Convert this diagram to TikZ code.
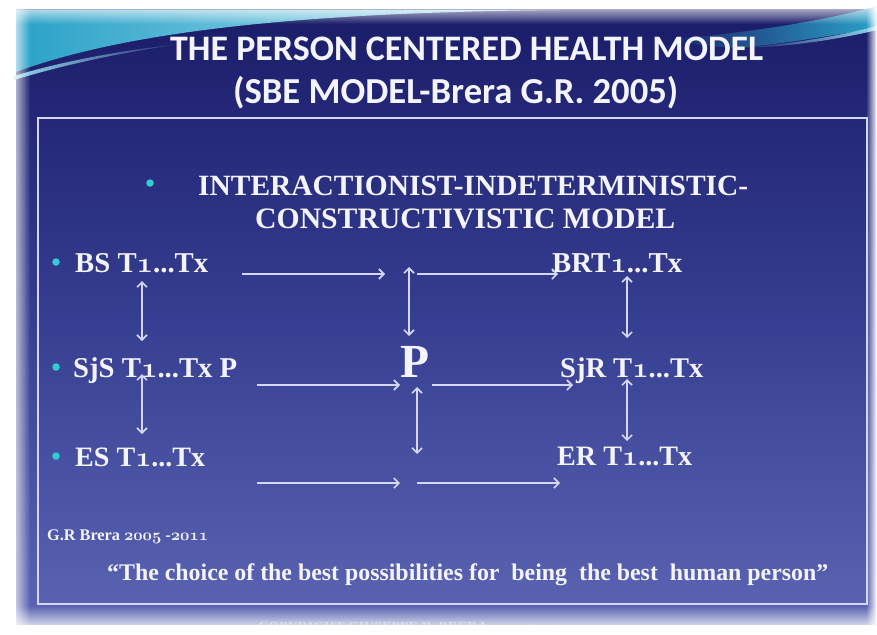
\documentclass[tikz,border=0pt]{standalone}
\usepackage{fontspec}
\usepackage{graphicx}
\setmainfont{Liberation Serif}
\newfontfamily\titlefont{Carlito}
\usetikzlibrary{arrows.meta,fadings}
\tikzfading[name=fadeToRight, left color=transparent!0, right color=transparent!100]
\tikzfading[name=fadeToLeft, left color=transparent!100, right color=transparent!0]
\tikzfading[name=fadeToBottom, top color=transparent!0, bottom color=transparent!100]
\tikzfading[name=fadeToTop, top color=transparent!100, bottom color=transparent!0]
\newcommand\osn[1]{{\fontencoding{OML}\fontfamily{cmm}\fontseries{b}\fontshape{it}\selectfont #1}}
\definecolor{navyT}{HTML}{1A1C68}
\definecolor{navyM}{HTML}{363E91}
\definecolor{navyB}{HTML}{5B65B3}
\definecolor{tealA}{HTML}{2AA2C8}
\definecolor{tealB}{HTML}{8FD6EA}
\definecolor{txt}{HTML}{F4F4FF}
\definecolor{linec}{HTML}{D4D7F4}
\definecolor{bul}{HTML}{30CDD2}
\tikzset{
  lbl/.style={anchor=base west, inner sep=0pt, text=txt, font=\bfseries},
  ttl/.style={anchor=base west, inner sep=0pt, text=txt, font=\titlefont\bfseries},
  bulletdot/.style={fill=bul, draw=none, circle, minimum size=7.5pt, inner sep=0pt},
  arr/.style={draw=linec, line width=1.6pt, -{Straight Barb[length=5pt,width=10pt]}},
  darr/.style={draw=linec, line width=1.6pt, {Straight Barb[length=5pt,width=10pt]}-{Straight Barb[length=5pt,width=10pt]}},
}
\begin{document}
\begin{tikzpicture}[x=1pt,y=-1pt]
\useasboundingbox (0,0) rectangle (877,634);
\clip (0,0) rectangle (877,634);
% background
\fill[white] (0,0) rectangle (877,634);
\shade[top color=navyT, bottom color=navyB, middle color=navyM] (16,10) rectangle (876,624);
% top-left swoosh
\shade[left color=tealA, right color=tealB!60!white] (16,10) -- (560,10) .. controls (340,12) and (140,26) .. (16,72) -- cycle;
\fill[tealB, path fading=fadeToRight] (14,80) .. controls (60,66) and (120,52) .. (190,43) .. controls (120,50) and (60,62) .. (14,76) -- cycle;
% top-right swoosh
\shade[left color=navyT, right color=tealA] (660,40) .. controls (740,34) and (820,22) .. (877,6) -- (877,28) .. controls (830,36) and (780,44) .. (740,48) .. controls (710,47) and (690,44) .. (660,40) -- cycle;
\fill[tealB, path fading=fadeToLeft] (740,48) .. controls (790,44) and (840,36) .. (877,26) -- (877,30) .. controls (840,39) and (790,47) .. (740,48) -- cycle;
% fuzzy edges
\fill[white, path fading=fadeToBottom] (0,0) rectangle (877,24);
\fill[white, path fading=fadeToRight] (8,0) rectangle (30,634);
\fill[white, path fading=fadeToLeft] (866,0) rectangle (877,634);
\fill[white, path fading=fadeToTop] (0,606) rectangle (877,632);
\fill[white] (0,0) rectangle (877,5);
\fill[white] (0,0) rectangle (9,634);
% title
\node[ttl] (t1) at (170,60) {\resizebox{593pt}{!}{THE PERSON CENTERED HEALTH MODEL}};
\node[ttl] (t2) at (233,103) {\resizebox{445pt}{!}{(SBE MODEL-Brera G.R. 2005)}};
% inner frame
\draw[linec, line width=1.8pt] (38,118) rectangle (867,604);
% heading
\node[bulletdot] (b0) at (150,183) {};
\node[lbl] (h1) at (198,195) {\resizebox{550pt}{!}{INTERACTIONIST-INDETERMINISTIC-}};
\node[lbl] (h2) at (255,228) {\resizebox{420pt}{!}{CONSTRUCTIVISTIC MODEL}};
% left column
\node[bulletdot] (b1) at (56,262) {};
\node[bulletdot] (b2) at (56,367) {};
\node[bulletdot] (b3) at (56,456) {};
\node[lbl] (bs) at (75,272) {\resizebox{133pt}{!}{BS T\osn{1}...Tx}};
\node[lbl] (sjs) at (73,377) {\resizebox{164pt}{!}{SjS T\osn{1}...Tx P}};
\node[lbl] (es) at (75,466) {\resizebox{130pt}{!}{ES T\osn{1}...Tx}};
% centre
\node[lbl] (p) at (400,377) {\resizebox{29pt}{!}{P}};
% right column
\node[lbl] (brt) at (552,272) {\resizebox{130pt}{!}{BRT\osn{1}...Tx}};
\node[lbl] (sjr) at (560,377) {\resizebox{143pt}{!}{SjR T\osn{1}...Tx}};
\node[lbl] (er) at (557,465) {\resizebox{135pt}{!}{ER T\osn{1}...Tx}};
% connector ends
\coordinate (a1s) at (242,274); \coordinate (a1e) at (385,274);
\coordinate (a2s) at (417,274); \coordinate (a2e) at (558,274);
\coordinate (a3s) at (257,385); \coordinate (a3e) at (400,385);
\coordinate (a4s) at (432,385); \coordinate (a4e) at (573,385);
\coordinate (a5s) at (257,483); \coordinate (a5e) at (400,483);
\coordinate (a6s) at (417,483); \coordinate (a6e) at (560,483);
\coordinate (v1s) at (409,267); \coordinate (v1e) at (409,336);
\coordinate (v2s) at (417,387); \coordinate (v2e) at (417,454);
\coordinate (v3s) at (142,281); \coordinate (v3e) at (142,341);
\coordinate (v4s) at (142,374); \coordinate (v4e) at (142,434);
\coordinate (v5s) at (627,276); \coordinate (v5e) at (627,338);
\coordinate (v6s) at (627,379); \coordinate (v6e) at (627,441);
\draw[arr] (a1s) -- (a1e);
\draw[arr] (a2s) -- (a2e);
\draw[arr] (a3s) -- (a3e);
\draw[arr] (a4s) -- (a4e);
\draw[arr] (a5s) -- (a5e);
\draw[arr] (a6s) -- (a6e);
\draw[darr] (v1s) -- (v1e);
\draw[darr] (v2s) -- (v2e);
\draw[darr] (v3s) -- (v3e);
\draw[darr] (v4s) -- (v4e);
\draw[darr] (v5s) -- (v5e);
\draw[darr] (v6s) -- (v6e);
% footer
\node[lbl] (cr) at (47,540) {\resizebox{161pt}{!}{G.R Brera \osn{2005} -\osn{2011}}};
\node[lbl] (q) at (107,580) {\resizebox{721pt}{!}{\textquotedblleft The choice of the best possibilities for\ \ being\ \ the best\ \ human person\textquotedblright}};
\node[lbl, text=white, opacity=0.4] (copy) at (258,631) {\resizebox{302pt}{!}{COPYRIGHT GIUSEPPE R. BRERA \osn{2005}-\osn{2011}}};
\end{tikzpicture}
\end{document}
